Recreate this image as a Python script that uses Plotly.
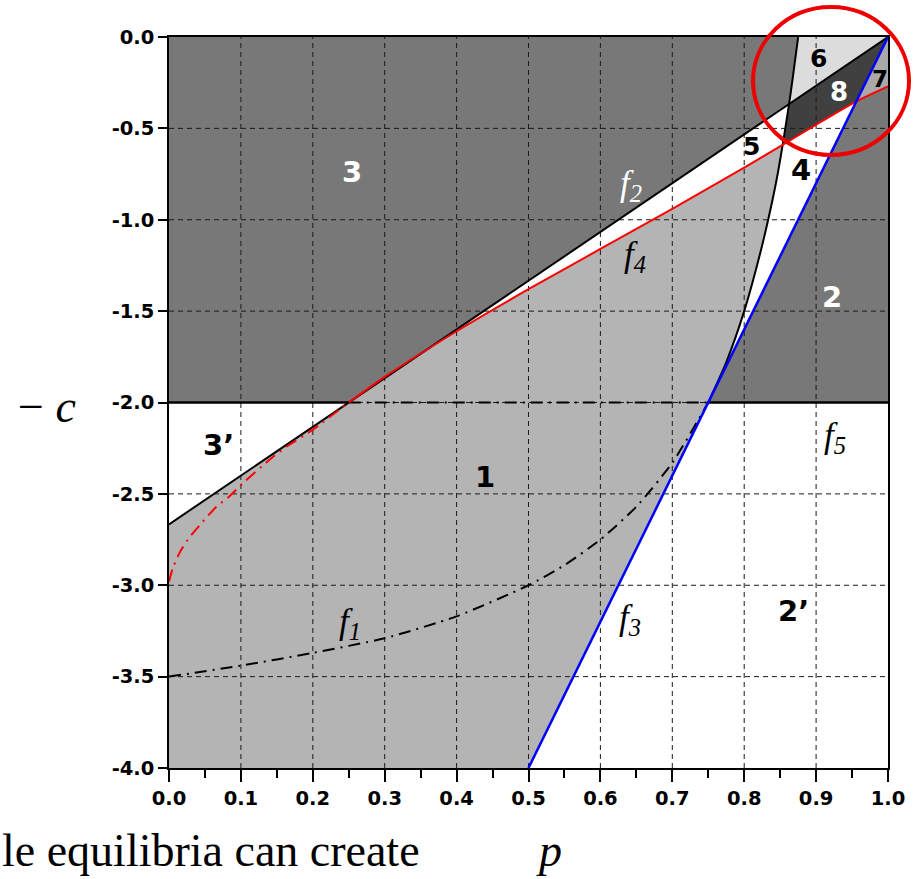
import plotly.graph_objects as go

# ---- curve samples (p, -c) ----
f1_p = [0.0, 0.1, 0.2, 0.3, 0.4, 0.5, 0.55, 0.6, 0.65, 0.7, 0.75, 0.775, 0.8, 0.825, 0.84, 0.847, 0.8535, 0.8624, 0.868, 0.875]
f1_y = [-3.5, -3.44, -3.37, -3.29, -3.17, -3.0, -2.89, -2.75, -2.57, -2.33, -2.0, -1.78, -1.5, -1.14, -0.88, -0.74, -0.59, -0.367, -0.21, 0.0]

f2_p = [0.0, 0.25, 0.8624, 1.0]
f2_y = [-2.667, -2.0, -0.367, 0.0]

f3_p = [0.5, 0.75, 0.956, 1.0]
f3_y = [-4.0, -2.0, -0.352, 0.0]

f4_p = [0.0, 0.005, 0.015, 0.028, 0.043, 0.066, 0.085, 0.103, 0.129, 0.147, 0.168, 0.192, 0.21,
        0.25, 0.3, 0.4, 0.5, 0.6, 0.7, 0.8, 0.8535, 0.9, 0.956, 1.0]
f4_y = [-2.98, -2.91, -2.82, -2.74, -2.67, -2.57, -2.51, -2.44, -2.35, -2.29, -2.23, -2.17, -2.12,
        -2.0, -1.86, -1.61, -1.38, -1.16, -0.94, -0.715, -0.59, -0.48, -0.352, -0.27]

f5_level = -2.0
f5_solid_ranges = [(0.0, 0.25), (0.75, 1.0)]
f5_dash_range = (0.25, 0.75)

x_ticks = [0.0, 0.1, 0.2, 0.3, 0.4, 0.5, 0.6, 0.7, 0.8, 0.9, 1.0]
x_ticktext = ["0.0", "0.1", "0.2", "0.3", "0.4", "0.5", "0.6", "0.7", "0.8", "0.9", "1.0"]
y_ticks = [0.0, -0.5, -1.0, -1.5, -2.0, -2.5, -3.0, -3.5, -4.0]
y_ticktext = ["0.0", "-0.5", "-1.0", "-1.5", "-2.0", "-2.5", "-3.0", "-3.5", "-4.0"]

# region labels: (text, p, -c, colour, size)
region_labels = [
    ("3", 0.255, -0.74, "white", 29),
    ("2", 0.922, -1.42, "white", 29),
    ("5", 0.810, -0.60, "black", 25),
    ("4", 0.879, -0.73, "black", 29),
    ("6", 0.904, -0.12, "black", 25),
    ("8", 0.932, -0.30, "white", 26),
    ("7", 0.989, -0.23, "black", 23),
    ("3\u2019", 0.069, -2.23, "black", 29),
    ("1", 0.440, -2.41, "black", 29),
    ("2\u2019", 0.868, -3.14, "black", 29),
]
curve_labels = [
    ("f", "2", 0.643, -0.81, "white"),
    ("f", "4", 0.648, -1.20, "black"),
    ("f", "5", 0.926, -2.19, "black"),
    ("f", "1", 0.252, -3.21, "black"),
    ("f", "3", 0.641, -3.19, "black"),
]

DARK = "#787878"
LIGHT = "#b4b4b4"
PALE = "#dcdcdc"
DARKEST = "#404040"
MID = "#a9a9a9"


def seg(ps, ys, a, b):
    """Points of a sampled curve with a <= p <= b, ordered from a to b."""
    pts = [(p, y) for p, y in zip(ps, ys) if min(a, b) - 1e-9 <= p <= max(a, b) + 1e-9]
    pts.sort()
    if a > b:
        pts.reverse()
    return pts


def poly(*parts):
    xs, ys = [], []
    for part in parts:
        for p, y in part:
            xs.append(p)
            ys.append(y)
    return xs, ys


A = (0.25, -2.0)
B = (0.75, -2.0)
C = (0.8535, -0.59)
D = (0.8624, -0.367)
E = (0.875, 0.0)
F = (0.956, -0.352)
G = (1.0, 0.0)

fig = go.Figure()


def add_fill(xs, ys, color):
    fig.add_trace(go.Scatter(x=xs, y=ys, fill="toself", fillcolor=color, mode="none",
                             hoverinfo="skip"))


# upper half (c < 2) background
add_fill([0, 1, 1, 0], [f5_level, f5_level, 0, 0], DARK)
# region 1
add_fill(*poly([(0, -4.0)], seg(f2_p, f2_y, 0, A[0]), seg(f4_p, f4_y, A[0], C[0]),
               seg(f1_p, f1_y, C[0], B[0]), seg(f3_p, f3_y, B[0], 0.5)), LIGHT)
# region 5
add_fill(*poly(seg(f2_p, f2_y, A[0], D[0]), seg(f1_p, f1_y, D[0], C[0]),
               seg(f4_p, f4_y, C[0], A[0])), "white")
# region 4
add_fill(*poly(seg(f1_p, f1_y, B[0], C[0]), seg(f4_p, f4_y, C[0], F[0]),
               seg(f3_p, f3_y, F[0], B[0])), "white")
# region 8
add_fill(*poly(seg(f1_p, f1_y, C[0], D[0]), seg(f2_p, f2_y, D[0], G[0]),
               seg(f3_p, f3_y, G[0], F[0]), seg(f4_p, f4_y, F[0], C[0])), DARKEST)
# region 7
add_fill(*poly(seg(f3_p, f3_y, F[0], G[0]), seg(f4_p, f4_y, 1.0, F[0])), MID)
# region 6
add_fill(*poly(seg(f1_p, f1_y, D[0], E[0]), [G], seg(f2_p, f2_y, G[0], D[0])), PALE)

# dashed grid drawn over the shaded regions
gx, gy = [], []
for t in x_ticks[1:-1]:
    gx += [t, t, None]
    gy += [-4, 0, None]
for t in y_ticks[1:-1]:
    gx += [0, 1, None]
    gy += [t, t, None]
fig.add_trace(go.Scatter(x=gx, y=gy, mode="lines", hoverinfo="skip",
                         line=dict(color="#1a1a1a", width=1, dash="5px,4px")))

DASHDOT = "12px,6px,2px,6px"
# f5
for a, b in f5_solid_ranges:
    fig.add_trace(go.Scatter(x=[a, b], y=[f5_level, f5_level], mode="lines",
                             line=dict(color="black", width=2.5)))
fig.add_trace(go.Scatter(x=list(f5_dash_range), y=[f5_level, f5_level], mode="lines",
                         line=dict(color="black", width=2, dash=DASHDOT)))
# f1
p, y = zip(*seg(f1_p, f1_y, 0, B[0]))
fig.add_trace(go.Scatter(x=p, y=y, mode="lines", line=dict(color="black", width=2, dash=DASHDOT,
                                                          shape="spline", smoothing=0.6)))
p, y = zip(*seg(f1_p, f1_y, B[0], E[0]))
fig.add_trace(go.Scatter(x=p, y=y, mode="lines", line=dict(color="black", width=2,
                                                          shape="spline", smoothing=0.6)))
# f2
fig.add_trace(go.Scatter(x=f2_p, y=f2_y, mode="lines", line=dict(color="black", width=2)))
# f4
p, y = zip(*seg(f4_p, f4_y, 0, A[0]))
fig.add_trace(go.Scatter(x=p, y=y, mode="lines", line=dict(color="#ff0000", width=2, dash=DASHDOT,
                                                          shape="spline", smoothing=0.6)))
p, y = zip(*seg(f4_p, f4_y, A[0], 1.0))
fig.add_trace(go.Scatter(x=p, y=y, mode="lines", line=dict(color="#ff0000", width=2,
                                                          shape="spline", smoothing=0.6)))
# f3
fig.add_trace(go.Scatter(x=f3_p, y=f3_y, mode="lines", line=dict(color="#0000ff", width=2.5)))

annotations = []
for txt, p, y, col, size in region_labels:
    annotations.append(dict(x=p, y=y, text=f"<b>{txt}</b>", showarrow=False,
                            xanchor="center", yanchor="middle",
                            font=dict(family="DejaVu Sans", size=size, color=col)))
for base, sub, p, y, col in curve_labels:
    annotations.append(dict(x=p, y=y, text=f"<i>{base}<sub>{sub}</sub></i>", showarrow=False,
                            xanchor="center", yanchor="middle",
                            font=dict(family="Liberation Serif", size=35, color=col)))


def px_to_paper(px, py):
    return (px - 169) / 719, (768 - py) / 731


cx, cy = px_to_paper(47, 406)
annotations.append(dict(x=cx, y=cy, xref="paper", yref="paper", text="\u2212 <i>c</i>",
                        xanchor="center", yanchor="middle",
                        showarrow=False, font=dict(family="Liberation Serif", size=46, color="black")))
cx, cy = px_to_paper(549, 850)
annotations.append(dict(x=cx, y=cy, xref="paper", yref="paper", text="<i>p</i>",
                        xanchor="center", yanchor="middle",
                        showarrow=False, font=dict(family="Liberation Serif", size=46, color="black")))
cx, cy = px_to_paper(0, 850)
annotations.append(dict(x=cx, y=cy, xref="paper", yref="paper", xanchor="left", yanchor="middle",
                        text="le equilibria can create",
                        showarrow=False, font=dict(family="Liberation Serif", size=46, color="black")))

# highlight ellipse around the upper-right corner
ex0, ey0 = px_to_paper(753, 155)
ex1, ey1 = px_to_paper(909, 7)
shapes = [dict(type="circle", xref="paper", yref="paper", x0=ex0, y0=ey0, x1=ex1, y1=ey1,
               line=dict(color="#ee0000", width=4), layer="above")]

tick_font = dict(family="DejaVu Sans", size=19.5, color="black")
fig.update_layout(
    width=919, height=879,
    margin=dict(l=169, r=31, t=37, b=111),
    plot_bgcolor="white", paper_bgcolor="white",
    showlegend=False,
    annotations=annotations,
    shapes=shapes,
    xaxis=dict(range=[0, 1], tickmode="array", tickvals=x_ticks,
               ticktext=[f"<b>{t}</b>" for t in x_ticktext], tickfont=tick_font,
               showgrid=False, zeroline=False,
               showline=True, linecolor="black", linewidth=1.5, mirror=True,
               ticks="outside", ticklen=12, tickcolor="black", tickwidth=1.5,
               minor=dict(dtick=0.05, ticks="outside", ticklen=8, tickcolor="black", tickwidth=1.5,
                          showgrid=False)),
    yaxis=dict(range=[-4, 0], tickmode="array", tickvals=y_ticks,
               ticktext=[f"<b>{t}</b>" for t in y_ticktext], tickfont=tick_font,
               showgrid=False, zeroline=False,
               showline=True, linecolor="black", linewidth=1.5, mirror=True,
               ticks="outside", ticklen=9, tickcolor="black", tickwidth=1.5),
)

fig.write_html("out.html")
